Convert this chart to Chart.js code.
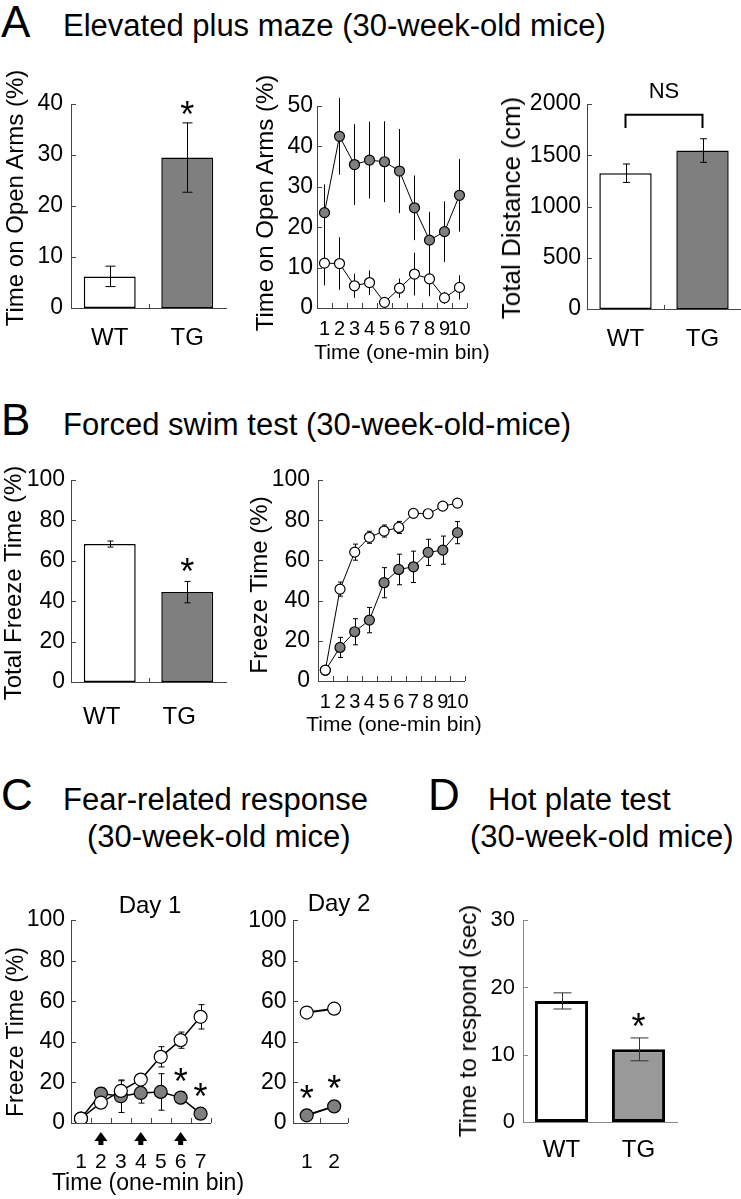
<!DOCTYPE html>
<html>
<head>
<meta charset="utf-8">
<script src="https://cdn.jsdelivr.net/npm/chart.js@4.4.1/dist/chart.umd.min.js"></script>
<style>
  html, body { margin: 0; padding: 0; background: #fff; }
  #fig { position: relative; width: 741px; height: 1199px; overflow: hidden;
         font-family: "Liberation Sans", Arial, sans-serif; color: #000; }
  #fig canvas { position: absolute; }
  .t { position: absolute; white-space: nowrap; line-height: 1; }
</style>
</head>
<body>
<div id="fig">
  <canvas id="epmTime"></canvas>
  <canvas id="epmBins"></canvas>
  <canvas id="epmDist"></canvas>
  <canvas id="fstTotal"></canvas>
  <canvas id="fstBins"></canvas>
  <canvas id="fearDay1"></canvas>
  <canvas id="fearDay2"></canvas>
  <canvas id="hotPlate"></canvas>
</div>
<script>
// categories
const groups = ['WT', 'TG'];
const bins10 = ['1', '2', '3', '4', '5', '6', '7', '8', '9', '10'];
const bins7 = ['1', '2', '3', '4', '5', '6', '7'];
const bins2 = ['1', '2'];

// A: elevated plus maze
const epmOpenTime = [6.2, 29.5];
const epmOpenTimeErr = [2.0, 6.8];
const epmBinWT = [11.1, 11.0, 5.5, 6.3, 1.4, 4.9, 8.4, 7.2, 2.5, 5.1];
const epmBinWTErr = [5.5, 6.5, 3.0, 3.0, 1.0, 2.4, 5.3, 4.3, 1.5, 3.0];
const epmBinTG = [23.6, 42.5, 35.5, 36.6, 36.2, 33.9, 24.8, 16.8, 18.9, 27.9];
const epmBinTGErr = [7.0, 9.5, 10.0, 9.5, 10.0, 10.4, 8.0, 7.0, 7.5, 9.0];
const epmDistance = [1325, 1546];
const epmDistanceErr = [90, 115];

// B: forced swim test
const fstTotalFreeze = [68.3, 44.5];
const fstTotalFreezeErr = [1.5, 5.3];
const fstBinWT = [5.4, 45.7, 64.1, 71.5, 74.6, 76.4, 83.4, 83.2, 87.0, 88.5];
const fstBinWTErr = [1.5, 3.5, 4.0, 3.0, 3.0, 3.0, 2.0, 2.0, 1.5, 1.5];
const fstBinTG = [5.3, 16.7, 24.5, 30.3, 48.9, 55.5, 56.8, 64.0, 65.1, 73.8];
const fstBinTGErr = [1.5, 5.0, 6.5, 6.3, 7.5, 7.6, 7.8, 6.5, 7.0, 5.5];

// C: fear-related response
const fearDay1WT = [2.2, 10.0, 15.8, 21.4, 32.6, 40.8, 52.3];
const fearDay1WTErr = [1.0, 1.5, 5.0, 1.5, 5.0, 4.0, 6.0];
const fearDay1TG = [2.2, 14.5, 13.2, 14.8, 15.3, 12.5, 4.6];
const fearDay1TGErr = [1.0, 3.0, 8.0, 5.0, 9.0, 3.0, 1.0];
const fearDay2WT = [54.5, 56.4];
const fearDay2TG = [3.8, 8.2];

// D: hot plate test
const hotPlateTime = [18.0, 10.8];
const hotPlateTimeErr = [1.2, 1.7];

const FONT = '"Liberation Sans", Arial, sans-serif';
const WHITE = '#ffffff';
const GRAY = '#7f7f7f';
const AXIS = '#444444';

Chart.defaults.font.family = FONT;
Chart.defaults.color = '#000';
Chart.defaults.animation = false;
Chart.defaults.plugins.legend.display = false;
Chart.defaults.plugins.tooltip.enabled = false;

// extra marks for each chart (error bars, inner ticks, stars, bracket, arrows)
const extrasById = {};

function drawErrors(chart, ex) {
  const ctx = chart.ctx;
  const y = chart.scales.y;
  chart.data.datasets.forEach((ds, i) => {
    if (!ds.errors) return;
    const meta = chart.getDatasetMeta(i);
    ctx.save();
    ctx.strokeStyle = ex.errColor || '#000';
    ctx.lineWidth = ex.errWidth || 1;
    meta.data.forEach((el, j) => {
      const v = ds.data[j], e = ds.errors[j];
      const top = y.getPixelForValue(v + e);
      const bot = y.getPixelForValue(v - e);
      const x = Math.round(el.x) + 0.5;
      const c = (ex.caps || 0) / 2;
      ctx.beginPath();
      ctx.moveTo(x, top); ctx.lineTo(x, bot);
      if (c) {
        ctx.moveTo(x - c, top); ctx.lineTo(x + c, top);
        ctx.moveTo(x - c, bot); ctx.lineTo(x + c, bot);
      }
      ctx.stroke();
    });
    ctx.restore();
  });
}

function drawInnerTicks(chart, ex) {
  const ctx = chart.ctx;
  const {x, y} = chart.scales;
  const area = chart.chartArea;
  ctx.save();
  ctx.strokeStyle = ex.axisColor || AXIS;
  ctx.lineWidth = 1;
  ctx.beginPath();
  y.ticks.forEach(t => {
    const py = Math.round(y.getPixelForValue(t.value)) + 0.5;
    ctx.moveTo(area.left, py); ctx.lineTo(area.left + 5, py);
  });
  const n = chart.data.labels.length;
  if (ex.xTicks === 'bins') {
    for (let i = 0; i <= n; i++) {
      const px = Math.round(x.getPixelForValue(i - 0.5)) + 0.5;
      ctx.moveTo(px, area.bottom); ctx.lineTo(px, area.bottom - 5);
    }
  } else if (ex.xTicks === 'mid') {
    const px = Math.round(x.getPixelForValue(0.5)) + 0.5;
    ctx.moveTo(px, area.bottom); ctx.lineTo(px, area.bottom - 4);
  }
  ctx.stroke();
  ctx.restore();
}

function drawStars(chart, ex) {
  if (!ex.stars) return;
  const ctx = chart.ctx;
  const {x, y} = chart.scales;
  ctx.save();
  ctx.fillStyle = '#000';
  ctx.font = '36px ' + FONT;
  ctx.textAlign = 'center';
  ctx.textBaseline = 'alphabetic';
  ex.stars.forEach(s => {
    ctx.fillText('*', x.getPixelForValue(s.index), y.getPixelForValue(s.value) + 0.56 * 36);
  });
  ctx.restore();
}

function drawBracket(chart, ex) {
  const b = ex.bracket;
  if (!b) return;
  const ctx = chart.ctx;
  const {x, y} = chart.scales;
  const x0 = x.getPixelForValue(b.from), x1 = x.getPixelForValue(b.to);
  const yTop = y.getPixelForValue(b.top), yEnd = y.getPixelForValue(b.end);
  ctx.save();
  ctx.strokeStyle = '#000';
  ctx.lineWidth = 2;
  ctx.beginPath();
  ctx.moveTo(x0, yEnd); ctx.lineTo(x0, yTop); ctx.lineTo(x1, yTop); ctx.lineTo(x1, yEnd);
  ctx.stroke();
  ctx.fillStyle = '#000';
  ctx.font = '22px ' + FONT;
  ctx.textAlign = 'center';
  ctx.textBaseline = 'middle';
  ctx.fillText(b.text, (x0 + x1) / 2, y.getPixelForValue(b.textAt));
  ctx.restore();
}

function drawArrows(chart, ex) {
  if (!ex.arrows) return;
  const ctx = chart.ctx;
  const x = chart.scales.x;
  const b = chart.chartArea.bottom;
  ctx.save();
  ctx.fillStyle = '#000';
  ex.arrows.forEach(i => {
    const px = x.getPixelForValue(i);
    ctx.beginPath();
    ctx.moveTo(px, b + 9);
    ctx.lineTo(px + 6.5, b + 18);
    ctx.lineTo(px - 6.5, b + 18);
    ctx.closePath();
    ctx.fill();
    ctx.fillRect(px - 2.5, b + 17, 5, 5);
  });
  ctx.restore();
}

Chart.register({
  id: 'figureExtras',
  beforeDatasetsDraw(chart) {
    const ex = extrasById[chart.canvas.id];
    if (ex && ex.errorsBehind) drawErrors(chart, ex);
  },
  afterDatasetsDraw(chart) {
    const ex = extrasById[chart.canvas.id];
    if (!ex) return;
    if (!ex.errorsBehind) drawErrors(chart, ex);
    drawInnerTicks(chart, ex);
    drawStars(chart, ex);
    drawBracket(chart, ex);
    drawArrows(chart, ex);
  }
});

function yLin(max, step, pad, opts = {}) {
  return {
    min: 0, max: max,
    ticks: { stepSize: step, padding: pad, color: '#000', font: { size: opts.size || 23, family: FONT },
             callback: v => String(v) },
    grid: { display: false, drawTicks: false },
    border: { color: opts.axis || AXIS, width: 1 }
  };
}

function xCat(size, pad, opts = {}) {
  return {
    offset: true,
    ticks: { autoSkip: false, maxRotation: 0, minRotation: 0, padding: pad, labelOffset: opts.labelOffset || 0,
             color: '#000', font: { size: size, family: FONT } },
    grid: { display: false, drawTicks: false },
    border: { color: opts.axis || AXIS, width: 1 }
  };
}

function makeChart(id, area, margin, config, extras) {
  const canvas = document.getElementById(id);
  const w = area.right - area.left + margin.left + margin.right;
  const h = area.bottom - area.top + margin.top + margin.bottom;
  canvas.width = w;
  canvas.height = h;
  canvas.style.width = w + 'px';
  canvas.style.height = h + 'px';
  canvas.style.left = (area.left - margin.left) + 'px';
  canvas.style.top = (area.top - margin.top) + 'px';
  extrasById[id] = extras;
  config.options.responsive = false;
  config.options.devicePixelRatio = 1;
  config.options.layout = { padding: { top: margin.top, right: margin.right, left: 0, bottom: 0 } };
  config.options.scales.y.afterFit = s => { s.width = margin.left; };
  config.options.scales.x.afterFit = s => { s.height = margin.bottom; };
  return new Chart(canvas, config);
}

function lineSet(values, errors, fill, radius, width) {
  return {
    data: values, errors: errors,
    borderColor: '#000', borderWidth: width,
    pointBackgroundColor: fill, pointBorderColor: '#000',
    pointRadius: radius, pointBorderWidth: 1.2, tension: 0
  };
}

function barSet(values, errors, fills, border, pct) {
  return {
    data: values, errors: errors,
    backgroundColor: fills, borderColor: '#000', borderWidth: border,
    borderSkipped: false, barPercentage: pct, categoryPercentage: 1
  };
}

// ---- A ----
makeChart('epmTime', { left: 71, top: 104, right: 226, bottom: 308 }, { left: 71, top: 40, right: 8, bottom: 50 }, {
  type: 'bar',
  data: { labels: groups, datasets: [barSet(epmOpenTime, epmOpenTimeErr, [WHITE, GRAY], 1.5, 0.67)] },
  options: { scales: { x: xCat(24, 16), y: yLin(40, 10, 8) } }
}, { caps: 10, xTicks: 'mid', stars: [{ index: 1, value: 39.5 }] });

makeChart('epmBins', { left: 317, top: 106, right: 472, bottom: 308 }, { left: 60, top: 30, right: 8, bottom: 35 }, {
  type: 'line',
  data: { labels: bins10, datasets: [lineSet(epmBinWT, epmBinWTErr, WHITE, 5, 1), lineSet(epmBinTG, epmBinTGErr, GRAY, 5, 1)] },
  options: { scales: { x: xCat(20, 9), y: yLin(50, 10, 4) } }
}, { caps: 0, errorsBehind: true, xTicks: 'bins' });

makeChart('epmDist', { left: 587, top: 104, right: 741, bottom: 309 }, { left: 80, top: 50, right: 0, bottom: 45 }, {
  type: 'bar',
  data: { labels: groups, datasets: [barSet(epmDistance, epmDistanceErr, [WHITE, GRAY], 1.5, 0.68)] },
  options: { scales: { x: xCat(24, 15.5), y: yLin(2000, 500, 6) } }
}, { caps: 7, xTicks: 'mid', bracket: { from: 0, to: 1, top: 1895, end: 1765, text: 'NS', textAt: 2120 } });

// ---- B ----
makeChart('fstTotal', { left: 71, top: 480, right: 226, bottom: 682 }, { left: 71, top: 30, right: 8, bottom: 50 }, {
  type: 'bar',
  data: { labels: groups, datasets: [barSet(fstTotalFreeze, fstTotalFreezeErr, [WHITE, GRAY], 1.5, 0.67)] },
  options: { scales: { x: xCat(24, 20.5, { labelOffset: -8 }), y: yLin(100, 20, 6) } }
}, { caps: 6, xTicks: 'mid', stars: [{ index: 1, value: 58.7 }] });

makeChart('fstBins', { left: 318, top: 480, right: 470, bottom: 681 }, { left: 60, top: 30, right: 8, bottom: 35 }, {
  type: 'line',
  data: { labels: bins10, datasets: [lineSet(fstBinWT, fstBinWTErr, WHITE, 5, 1), lineSet(fstBinTG, fstBinTGErr, GRAY, 5, 1)] },
  options: { scales: { x: xCat(20, 9), y: yLin(100, 20, 8) } }
}, { caps: 5, errorsBehind: true, xTicks: 'bins' });

// ---- C ----
makeChart('fearDay1', { left: 71, top: 920, right: 226, bottom: 1123 }, { left: 71, top: 20, right: 8, bottom: 50 }, {
  type: 'line',
  data: { labels: bins7, datasets: [lineSet(fearDay1WT, fearDay1WTErr, WHITE, 6.5, 1.5), lineSet(fearDay1TG, fearDay1TGErr, GRAY, 6.5, 1.5)] },
  options: { scales: { x: xCat(21, 27), y: yLin(100, 20, 6) } }
}, { caps: 6, errorsBehind: true, xTicks: 'bins', arrows: [1, 3, 5],
     stars: [{ index: 5, value: 24.4 }, { index: 6, value: 17 }] });

makeChart('fearDay2', { left: 293, top: 920, right: 361, bottom: 1123 }, { left: 60, top: 20, right: 8, bottom: 50 }, {
  type: 'line',
  data: { labels: bins2, datasets: [lineSet(fearDay2WT, null, WHITE, 6.5, 2), lineSet(fearDay2TG, null, GRAY, 6.5, 2)] },
  options: { scales: { x: xCat(21, 27), y: yLin(100, 20, 6.5) } }
}, { errorsBehind: true, xTicks: 'bins', stars: [{ index: 0, value: 16.1 }, { index: 1, value: 21 }] });

// ---- D ----
makeChart('hotPlate', { left: 523, top: 919, right: 677, bottom: 1122 }, { left: 70, top: 20, right: 10, bottom: 50 }, {
  type: 'bar',
  data: { labels: groups, datasets: [barSet(hotPlateTime, hotPlateTimeErr, [WHITE, '#999999'], 3, 0.69)] },
  options: { scales: { x: xCat(24, 13.8, { axis: '#888' }), y: yLin(30, 10, 8, { axis: '#888', size: 22 }) } }
}, { caps: 18, errColor: '#333', axisColor: '#888', stars: [{ index: 1, value: 15.3 }] });

// ---- text: panel letters, titles, axis titles ----
const texts = [
  { s: 'A', x: 1, y: 37, size: 44, mode: 'base' },
  { s: 'Elevated plus maze (30-week-old mice)', x: 63, y: 36, size: 31, mode: 'base' },
  { s: 'B', x: 1, y: 435, size: 44, mode: 'base' },
  { s: 'Forced swim test (30-week-old-mice)', x: 63, y: 435, size: 31, mode: 'base' },
  { s: 'C', x: 1, y: 810, size: 44, mode: 'base' },
  { s: 'Fear-related response', x: 63, y: 810, size: 31, mode: 'base' },
  { s: '(30-week-old mice)', x: 87, y: 847, size: 31, mode: 'base' },
  { s: 'D', x: 428, y: 810, size: 44, mode: 'base' },
  { s: 'Hot plate test', x: 488, y: 810, size: 31, mode: 'base' },
  { s: '(30-week-old mice)', x: 470, y: 847, size: 31, mode: 'base' },
  { s: 'Time on Open Arms (%)', x: 15, y: 198, size: 24, mode: 'vert' },
  { s: 'Time on Open Arms (%)', x: 265, y: 203, size: 24, mode: 'vert' },
  { s: 'Total Distance (cm)', x: 511, y: 208, size: 26, mode: 'vert' },
  { s: 'Time (one-min bin)', x: 402, y: 351, size: 21, mode: 'center' },
  { s: 'Total Freeze Time (%)', x: 13, y: 583, size: 24, mode: 'vert' },
  { s: 'Freeze Time (%)', x: 259, y: 585, size: 24, mode: 'vert' },
  { s: 'Time (one-min bin)', x: 394, y: 723, size: 21, mode: 'center' },
  { s: 'Day 1', x: 150, y: 905, size: 24, mode: 'center' },
  { s: 'Day 2', x: 339, y: 903, size: 24, mode: 'center' },
  { s: 'Freeze Time (%)', x: 15, y: 1032, size: 23, mode: 'vert' },
  { s: 'Time (one-min bin)', x: 148, y: 1182, size: 23, mode: 'center' },
  { s: 'Time to respond (sec)', x: 468, y: 1021, size: 24, mode: 'vert' }
];

const fig = document.getElementById('fig');
texts.forEach(t => {
  const d = document.createElement('div');
  d.className = 't';
  d.textContent = t.s;
  d.style.fontSize = t.size + 'px';
  d.style.left = t.x + 'px';
  if (t.mode === 'base') {
    d.style.top = (t.y - 0.8465 * t.size) + 'px';
  } else {
    d.style.top = t.y + 'px';
    d.style.transform = t.mode === 'vert' ? 'translate(-50%, -50%) rotate(-90deg)' : 'translate(-50%, -50%)';
  }
  fig.appendChild(d);
});
</script>
</body>
</html>
